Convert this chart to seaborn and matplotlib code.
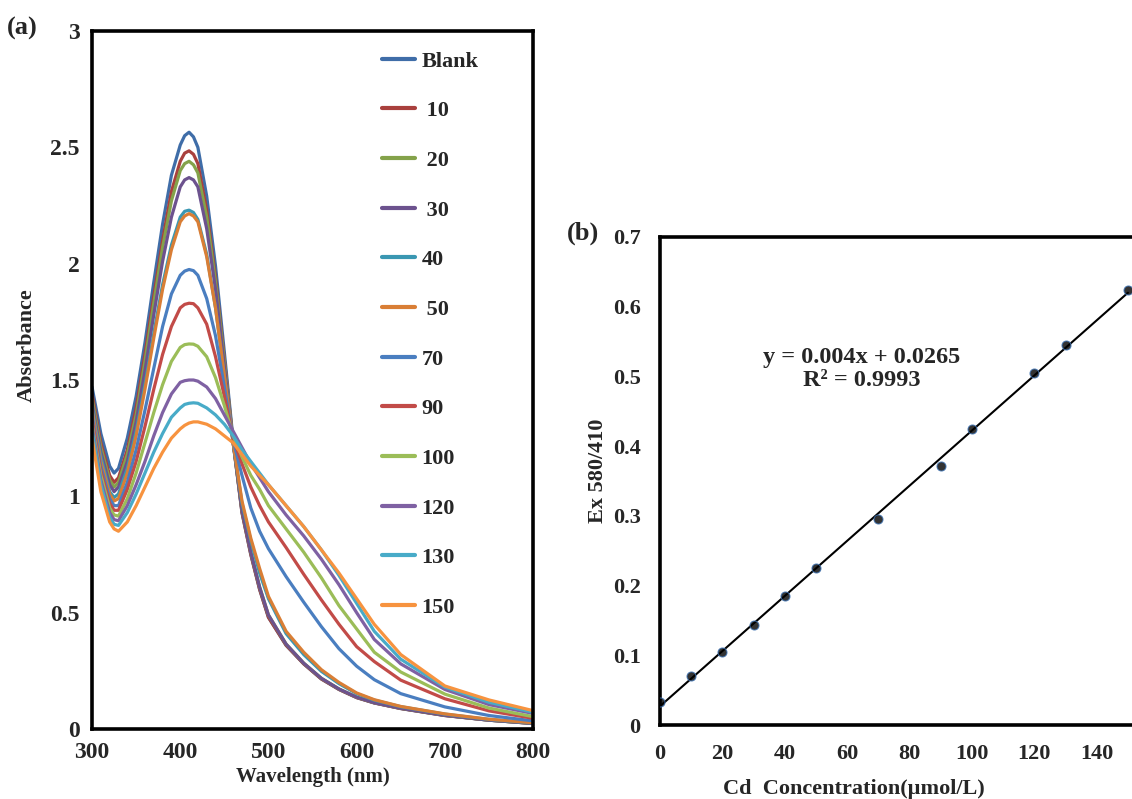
import matplotlib
matplotlib.use('Agg')
import numpy as np
import pandas as pd
import matplotlib.pyplot as plt
import seaborn as sns

# ==========================================
# DATA
# ==========================================
WAVELENGTH = [300, 310, 320, 325, 330, 340, 350, 360, 370, 380, 390, 400, 405, 410, 415, 420, 430, 440,
              450, 460, 470, 480, 490, 500, 520, 540, 560, 580, 600, 620, 650, 700, 750, 800]

ABS_BLANK = [1.47, 1.27, 1.13, 1.10, 1.12, 1.25, 1.43, 1.66, 1.92, 2.17, 2.38, 2.51, 2.55, 2.565, 2.545, 2.50, 2.29, 1.99,
             1.62, 1.24, 0.93, 0.75, 0.60, 0.48, 0.36, 0.28, 0.215, 0.17, 0.135, 0.112, 0.088, 0.058, 0.038, 0.024]
ABS_10 = [1.44, 1.23, 1.09, 1.06, 1.08, 1.20, 1.38, 1.61, 1.86, 2.10, 2.31, 2.44, 2.475, 2.485, 2.47, 2.43, 2.23, 1.94,
          1.59, 1.23, 0.93, 0.75, 0.60, 0.48, 0.36, 0.28, 0.215, 0.17, 0.135, 0.112, 0.088, 0.058, 0.038, 0.024]
ABS_20 = [1.42, 1.21, 1.07, 1.04, 1.06, 1.18, 1.35, 1.58, 1.83, 2.07, 2.27, 2.40, 2.43, 2.44, 2.425, 2.39, 2.20, 1.92,
          1.58, 1.23, 0.94, 0.76, 0.61, 0.49, 0.365, 0.283, 0.218, 0.172, 0.137, 0.113, 0.089, 0.059, 0.038, 0.024]
ABS_30 = [1.40, 1.19, 1.05, 1.02, 1.04, 1.15, 1.32, 1.54, 1.78, 2.01, 2.20, 2.33, 2.36, 2.37, 2.36, 2.33, 2.15, 1.89,
          1.56, 1.23, 0.94, 0.76, 0.61, 0.49, 0.365, 0.283, 0.218, 0.172, 0.137, 0.113, 0.089, 0.059, 0.038, 0.024]
ABS_40 = [1.38, 1.17, 1.02, 0.995, 1.01, 1.12, 1.28, 1.48, 1.70, 1.91, 2.08, 2.20, 2.225, 2.23, 2.22, 2.19, 2.04, 1.81,
          1.52, 1.23, 0.97, 0.81, 0.67, 0.56, 0.41, 0.32, 0.248, 0.195, 0.152, 0.124, 0.096, 0.064, 0.041, 0.026]
ABS_50 = [1.37, 1.15, 1.01, 0.98, 0.99, 1.10, 1.26, 1.46, 1.68, 1.89, 2.06, 2.18, 2.205, 2.215, 2.205, 2.18, 2.03, 1.81,
          1.52, 1.23, 0.98, 0.82, 0.69, 0.57, 0.42, 0.33, 0.255, 0.20, 0.155, 0.126, 0.097, 0.065, 0.042, 0.027]
ABS_70 = [1.35, 1.13, 0.99, 0.96, 0.96, 1.06, 1.20, 1.37, 1.55, 1.73, 1.87, 1.95, 1.968, 1.975, 1.97, 1.95, 1.85, 1.69,
          1.47, 1.24, 1.09, 0.95, 0.85, 0.775, 0.655, 0.545, 0.44, 0.345, 0.27, 0.212, 0.152, 0.095, 0.058, 0.035]
ABS_90 = [1.33, 1.11, 0.97, 0.94, 0.94, 1.03, 1.15, 1.30, 1.46, 1.61, 1.73, 1.81, 1.825, 1.83, 1.828, 1.81, 1.74, 1.60,
          1.43, 1.25, 1.14, 1.04, 0.96, 0.89, 0.78, 0.665, 0.555, 0.45, 0.354, 0.29, 0.21, 0.13, 0.078, 0.046]
ABS_100 = [1.31, 1.09, 0.95, 0.92, 0.915, 0.99, 1.10, 1.23, 1.36, 1.48, 1.58, 1.64, 1.652, 1.655, 1.654, 1.645, 1.60, 1.51,
           1.39, 1.26, 1.17, 1.09, 1.03, 0.96, 0.86, 0.76, 0.65, 0.53, 0.43, 0.33, 0.245, 0.15, 0.09, 0.053]
ABS_120 = [1.30, 1.07, 0.93, 0.90, 0.895, 0.96, 1.05, 1.15, 1.26, 1.36, 1.44, 1.49, 1.497, 1.50, 1.50, 1.495, 1.47, 1.42,
           1.35, 1.28, 1.21, 1.14, 1.08, 1.02, 0.92, 0.83, 0.73, 0.62, 0.50, 0.385, 0.28, 0.17, 0.105, 0.067]
ABS_130 = [1.28, 1.05, 0.91, 0.88, 0.875, 0.93, 1.01, 1.10, 1.19, 1.27, 1.34, 1.38, 1.395, 1.40, 1.402, 1.40, 1.38, 1.35,
           1.31, 1.26, 1.20, 1.15, 1.10, 1.05, 0.96, 0.87, 0.77, 0.66, 0.54, 0.42, 0.30, 0.18, 0.115, 0.072]
ABS_150 = [1.25, 1.02, 0.89, 0.86, 0.85, 0.89, 0.96, 1.04, 1.12, 1.19, 1.25, 1.29, 1.305, 1.315, 1.32, 1.32, 1.31, 1.29,
           1.26, 1.23, 1.18, 1.13, 1.09, 1.05, 0.96, 0.87, 0.77, 0.67, 0.56, 0.45, 0.32, 0.185, 0.125, 0.079]

SERIES_LABELS = ['Blank', ' 10', ' 20', ' 30', '40', ' 50', '70', '90', '100', '120', '130', '150']
SERIES_COLORS = ['#3F6DA8', '#A9403D', '#84A24A', '#6C528E', '#3A97B2', '#D97E35',
                 '#4A7EC0', '#C24B48', '#9BBD58', '#7F61A3', '#48ABC8', '#F7933F']

CD_CONC = [0, 10, 20, 30, 40, 50, 70, 90, 100, 120, 130, 150]
EX_RATIO = [0.033, 0.071, 0.105, 0.143, 0.185, 0.225, 0.295, 0.371, 0.424, 0.505, 0.545, 0.624]

A_YTICKS = [0, 0.5, 1, 1.5, 2, 2.5, 3]
A_YTICKLABELS = ['0', '0.5', '1', '1.5', '2', '2.5', '3']
A_XTICKS = [300, 400, 500, 600, 700, 800]
B_YTICKS = [0, 0.1, 0.2, 0.3, 0.4, 0.5, 0.6, 0.7]
B_YTICKLABELS = ['0', '0.1', '0.2', '0.3', '0.4', '0.5', '0.6', '0.7']
B_XTICKS = [0, 20, 40, 60, 80, 100, 120, 140]

# ==========================================
# ESTILO
# ==========================================
sns.set_style('white')
plt.rcParams['font.family'] = ['Liberation Serif', 'DejaVu Serif']
plt.rcParams['font.weight'] = 'bold'
plt.rcParams['axes.labelweight'] = 'bold'

all_abs = [ABS_BLANK, ABS_10, ABS_20, ABS_30, ABS_40, ABS_50,
           ABS_70, ABS_90, ABS_100, ABS_120, ABS_130, ABS_150]
frames = []
for label, values in zip(SERIES_LABELS, all_abs):
    frames.append(pd.DataFrame({'wl': WAVELENGTH, 'abs': values, 'series': label}))
spectra = pd.concat(frames, ignore_index=True)

fig = plt.figure(figsize=(11.32, 7.99), dpi=100)

# ---------- (a) ----------
ax_a = fig.add_axes([0.0813, 0.0876, 0.3896, 0.8736])
sns.lineplot(data=spectra, x='wl', y='abs', hue='series', hue_order=SERIES_LABELS,
             palette=SERIES_COLORS, estimator=None, linewidth=2.3, ax=ax_a)
ax_a.set_xlim(300, 800)
ax_a.set_ylim(0, 3)
ax_a.set_xticks(A_XTICKS)
ax_a.set_yticks(A_YTICKS)
ax_a.set_yticklabels(A_YTICKLABELS)
ax_a.tick_params(axis='both', labelsize=17, length=5, width=1, color='#888888', direction='out', pad=4)
ax_a.set_xlabel('Wavelength (nm)', fontsize=15, labelpad=3)
ax_a.set_ylabel('Absorbance', fontsize=16)
ax_a.yaxis.set_label_coords(-0.125, 0.55)
for sp in ax_a.spines.values():
    sp.set_linewidth(2.6)
    sp.set_color('black')
leg = ax_a.legend(loc='upper left', bbox_to_anchor=(0.612, 1.0), frameon=False,
                  fontsize=16, labelspacing=1.31, handlelength=1.5, handletextpad=0.27)
for line in leg.get_lines():
    line.set_linewidth(3)
fig.text(0.006, 0.965, '(a)', fontsize=19, fontweight='bold', va='center')

# ---------- (b) ----------
ax_b = fig.add_axes([0.5830, 0.0926, 0.4170, 0.6108])
sns.regplot(x=CD_CONC, y=EX_RATIO, ci=None, ax=ax_b,
            scatter_kws={'s': 42, 'color': 'black', 'edgecolor': '#3A6FB0', 'linewidths': 0.8, 'zorder': 3},
            line_kws={'color': 'black', 'linewidth': 1.5})
ax_b.set_xlim(0, 151.3)
ax_b.set_ylim(0, 0.7)
ax_b.set_xticks(B_XTICKS)
ax_b.set_yticks(B_YTICKS)
ax_b.set_yticklabels(B_YTICKLABELS)
ax_b.tick_params(axis='both', labelsize=16, length=0, pad=14)
ax_b.set_xlabel('Cd  Concentration(µmol/L)', fontsize=16)
ax_b.xaxis.set_label_coords(0.41, -0.11)
ax_b.set_ylabel('Ex 580/410', fontsize=16)
ax_b.yaxis.set_label_coords(-0.11, 0.52)
for sp in ax_b.spines.values():
    sp.set_linewidth(2.6)
    sp.set_color('black')
ax_b.spines['right'].set_visible(False)
ax_b.text(0.428, 0.73, 'y = 0.004x + 0.0265\nR² = 0.9993', transform=ax_b.transAxes,
          ha='center', va='center', fontsize=17.5, fontweight='bold', linespacing=1.1)
fig.text(0.501, 0.708, '(b)', fontsize=19, fontweight='bold', va='center')

plt.savefig('out.png', dpi=100)
